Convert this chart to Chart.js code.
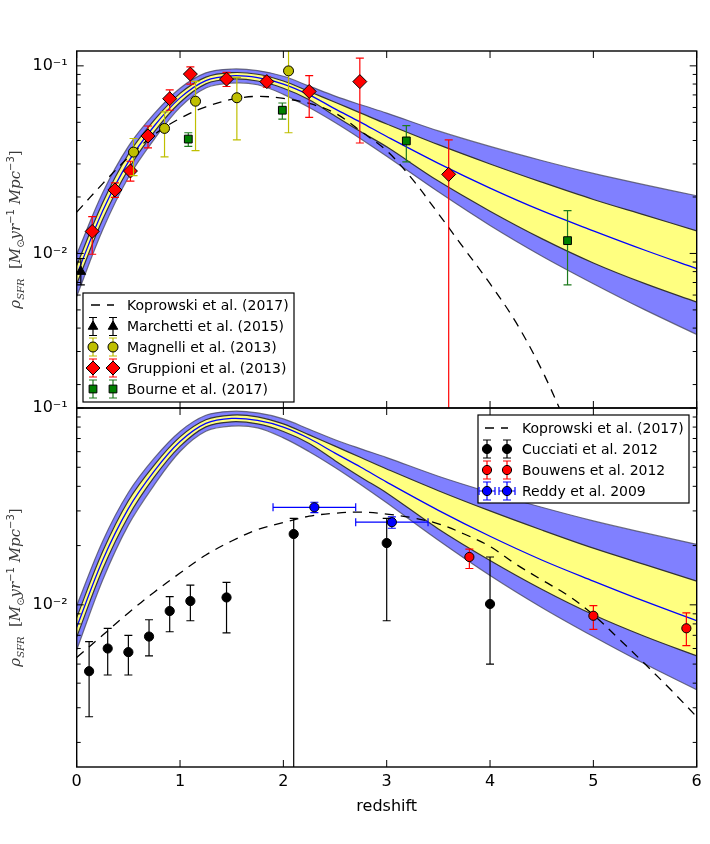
<!DOCTYPE html>
<html>
<head>
<meta charset="utf-8">
<script src="https://cdn.jsdelivr.net/npm/chart.js"></script>
<style>
body { margin: 0; background: #fff; }
#wrap { position: relative; width: 710px; height: 844px; }
canvas { position: absolute; left: 0; }
#top { top: 0; }
#bottom { top: 380px; }
</style>
</head>
<body>
<div id="wrap">
<canvas id="top" width="710" height="440"></canvas>
<canvas id="bottom" width="710" height="464"></canvas>
</div>
<script>
// model SFRD curve, same in both panels
const zModel = [0, 0.25, 0.5, 0.75, 1, 1.25, 1.5, 1.75, 2, 2.25, 2.5, 2.75, 3, 3.5, 4, 4.5, 5, 5.5, 6];
const sfrMid = [0.0077, 0.0168, 0.0308, 0.0478, 0.0675, 0.0835, 0.0885, 0.0865, 0.0800, 0.0700, 0.0590, 0.0500, 0.0420, 0.0302, 0.0223, 0.0169, 0.0132, 0.0104, 0.0083];
const sfr1Lo = [0.00686, 0.0151, 0.0281, 0.0445, 0.0638, 0.0802, 0.0851, 0.0830, 0.0760, 0.0660, 0.0540, 0.0445, 0.0370, 0.0243, 0.0168, 0.0120, 0.0089, 0.0069, 0.0055];
const sfr1Hi = [0.00863, 0.0186, 0.0338, 0.0513, 0.0713, 0.0871, 0.0920, 0.0902, 0.0830, 0.0730, 0.0640, 0.0560, 0.0490, 0.0380, 0.0300, 0.0240, 0.0194, 0.0160, 0.0132];
const sfr2Lo = [0.0059, 0.0133, 0.0254, 0.0406, 0.0601, 0.0762, 0.0809, 0.0793, 0.0705, 0.0600, 0.0499, 0.0408, 0.0330, 0.0213, 0.0141, 0.0097, 0.0069, 0.0050, 0.0037];
const sfr2Hi = [0.0099, 0.0210, 0.0372, 0.0556, 0.0760, 0.0918, 0.0962, 0.0944, 0.0880, 0.0780, 0.0690, 0.0620, 0.0560, 0.0450, 0.0372, 0.0313, 0.0267, 0.0232, 0.0203];

// Koprowski et al. (2017), top (IR) and bottom (UV)
const kopTopZ = [0, 0.25, 0.5, 0.75, 1, 1.25, 1.5, 1.75, 2, 2.25, 2.5, 2.75, 3, 3.25, 3.5, 3.75, 4, 4.25, 4.5, 4.75];
const kopTopV = [0.0166, 0.0235, 0.0325, 0.0430, 0.0525, 0.0605, 0.0662, 0.0688, 0.0670, 0.0630, 0.0560, 0.0448, 0.0353, 0.0248, 0.0163, 0.0106, 0.0069, 0.0043, 0.0024, 0.0012];
const kopBotZ = [0, 0.25, 0.5, 0.75, 1, 1.25, 1.5, 1.75, 2, 2.25, 2.5, 2.75, 3, 3.25, 3.5, 3.75, 4, 4.25, 4.5, 4.75, 5, 5.25, 5.5, 5.75, 6];
const kopBotV = [0.0054, 0.0070, 0.0091, 0.0116, 0.0145, 0.0179, 0.0211, 0.0241, 0.0262, 0.0282, 0.0292, 0.0296, 0.0289, 0.0277, 0.0258, 0.0229, 0.0198, 0.0161, 0.0134, 0.0112, 0.0089, 0.0067, 0.0050, 0.0037, 0.0027];

// top panel data
const marZ = [0.04], marV = [0.0080], marLo = [0.0068], marHi = [0.0094];
const magZ = [0.55, 0.85, 1.15, 1.55, 2.05];
const magV = [0.0347, 0.0464, 0.0648, 0.0676, 0.094];
const magLo = [0.0260, 0.0327, 0.0353, 0.0403, 0.044];
const magHi = [0.0410, 0.0568, 0.0827, 0.0868, 0.2];
const gruZ = [0.15, 0.37, 0.52, 0.69, 0.9, 1.1, 1.45, 1.84, 2.25, 2.74, 3.6];
const gruV = [0.0131, 0.0218, 0.0275, 0.0423, 0.0668, 0.0904, 0.085, 0.0824, 0.073, 0.0824, 0.0264];
const gruLo = [0.0099, 0.0199, 0.0243, 0.0365, 0.058, 0.080, 0.0776, 0.0770, 0.0531, 0.0388, 0.0001];
const gruHi = [0.0157, 0.0238, 0.0310, 0.0478, 0.0745, 0.0988, 0.0923, 0.0875, 0.0886, 0.110, 0.0403];
const bouZ = [1.08, 1.99, 3.19, 4.75];
const bouV = [0.0407, 0.058, 0.0398, 0.0117];
const bouLo = [0.0372, 0.052, 0.0308, 0.0068];
const bouHi = [0.044, 0.0634, 0.048, 0.0169];

// bottom panel data
const cucZ = [0.12, 0.3, 0.5, 0.7, 0.9, 1.1, 1.45, 2.1, 3.0, 4.0];
const cucV = [0.0046, 0.0060, 0.00575, 0.0069, 0.0093, 0.01045, 0.0109, 0.0229, 0.0206, 0.0101];
const cucLo = [0.0027, 0.0044, 0.0044, 0.0055, 0.0073, 0.0083, 0.0072, 0.0001, 0.0083, 0.0050];
const cucHi = [0.0065, 0.0076, 0.0070, 0.0084, 0.0110, 0.0126, 0.0130, 0.0275, 0.0275, 0.0175];
const bwsZ = [3.8, 5.0, 5.9];
const bwsV = [0.0175, 0.0088, 0.0076];
const bwsLo = [0.0153, 0.0075, 0.0062];
const bwsHi = [0.0192, 0.0099, 0.0091];
const redZ = [2.3, 3.05], redZLo = [1.9, 2.7], redZHi = [2.7, 3.4];
const redV = [0.0313, 0.0263], redLo = [0.0294, 0.0245], redHi = [0.0332, 0.028];

const xTickValues = [0, 1, 2, 3, 4, 5, 6];
const yTickValues = [0.01, 0.1];
const yTickText = ['10⁻²', '10⁻¹'];

Chart.defaults.font.family = '"DejaVu Sans"';

const pts = (xs, ys) => xs.map((x, i) => ({x: x, y: ys[i]}));

function band(hi, lo, fill, edge, ord) {
	return [
		{data: pts(zModel, hi), fill: '+1', backgroundColor: fill, borderColor: edge, borderWidth: 1.2, pointRadius: 0, tension: 0.35, order: ord + 1},
		{data: pts(zModel, lo), fill: false, borderColor: edge, borderWidth: 1.2, pointRadius: 0, tension: 0.35, order: ord},
	];
}

function curve(zs, vs, color, dash, ord) {
	return {data: pts(zs, vs), fill: false, borderColor: color, borderWidth: 1.3, borderDash: dash, pointRadius: 0, tension: 0.35, order: ord};
}

function points(s, ord) {
	return {
		data: pts(s.z, s.v), showLine: false, pointStyle: s.style, pointRadius: s.r,
		pointBackgroundColor: s.fill, pointBorderColor: '#000', pointBorderWidth: 1,
		errLo: s.lo, errHi: s.hi, errColor: s.err, xLo: s.zLo, xHi: s.zHi, order: ord,
	};
}

const marchetti = {z: marZ, v: marV, lo: marLo, hi: marHi, style: 'triangle', r: 5.5, fill: '#000000', err: '#000000'};
const magnelli = {z: magZ, v: magV, lo: magLo, hi: magHi, style: 'circle', r: 5, fill: '#bfbf00', err: '#bfbf00'};
const gruppioni = {z: gruZ, v: gruV, lo: gruLo, hi: gruHi, style: 'rectRot', r: 7, fill: '#ff0000', err: '#ff0000'};
const bourne = {z: bouZ, v: bouV, lo: bouLo, hi: bouHi, style: 'rect', r: 5.5, fill: '#008000', err: '#1d7a1d'};
const cucciati = {z: cucZ, v: cucV, lo: cucLo, hi: cucHi, style: 'circle', r: 4.6, fill: '#000000', err: '#000000'};
const bouwens = {z: bwsZ, v: bwsV, lo: bwsLo, hi: bwsHi, style: 'circle', r: 4.6, fill: '#ff0000', err: '#ff0000'};
const reddy = {z: redZ, v: redV, lo: redLo, hi: redHi, zLo: redZLo, zHi: redZHi, style: 'circle', r: 4.6, fill: '#0000ff', err: '#0000ff'};

function modelSets() {
	return [].concat(
		band(sfr2Hi, sfr2Lo, '#8080ff', 'rgba(70,70,90,0.75)', 50),
		band(sfr1Hi, sfr1Lo, '#ffff80', '#333333', 40),
		[curve(zModel, sfrMid, '#0000ff', [], 30)]
	);
}

const errorBarPlugin = {
	id: 'errbars',
	beforeDatasetDraw(chart, args) {
		const ds = chart.data.datasets[args.index];
		if (!ds.errLo) return;
		const {ctx, chartArea: a} = chart;
		const x = chart.scales.x, y = chart.scales.y;
		ctx.save();
		ctx.beginPath();
		ctx.rect(a.left, a.top, a.right - a.left, a.bottom - a.top);
		ctx.clip();
		ctx.strokeStyle = ds.errColor;
		ctx.lineWidth = 1.2;
		ctx.beginPath();
		ds.data.forEach((p, i) => {
			const px = x.getPixelForValue(p.x);
			const lo = y.getPixelForValue(ds.errLo[i]);
			const hi = y.getPixelForValue(ds.errHi[i]);
			ctx.moveTo(px, lo); ctx.lineTo(px, hi);
			ctx.moveTo(px - 4, lo); ctx.lineTo(px + 4, lo);
			ctx.moveTo(px - 4, hi); ctx.lineTo(px + 4, hi);
			if (ds.xLo) {
				const py = y.getPixelForValue(p.y);
				const l = x.getPixelForValue(ds.xLo[i]), r = x.getPixelForValue(ds.xHi[i]);
				ctx.moveTo(l, py); ctx.lineTo(r, py);
				ctx.moveTo(l, py - 4); ctx.lineTo(l, py + 4);
				ctx.moveTo(r, py - 4); ctx.lineTo(r, py + 4);
			}
		});
		ctx.stroke();
		ctx.restore();
	},
};

const framePlugin = {
	id: 'frame',
	afterDatasetsDraw(chart) {
		const {ctx, chartArea: a} = chart;
		const x = chart.scales.x, y = chart.scales.y;
		ctx.save();
		ctx.strokeStyle = '#000';
		ctx.lineWidth = 1;
		ctx.beginPath();
		xTickValues.forEach(v => {
			const px = x.getPixelForValue(v);
			ctx.moveTo(px, a.bottom); ctx.lineTo(px, a.bottom - 7);
			ctx.moveTo(px, a.top); ctx.lineTo(px, a.top + 7);
		});
		[0.001, 0.01, 0.1].forEach(d => {
			for (let m = 1; m < 10; m++) {
				const v = m * d;
				if (v < y.min || v > y.max * 1.0001) continue;
				const py = y.getPixelForValue(v);
				const len = m === 1 ? 7 : 4;
				ctx.moveTo(a.left, py); ctx.lineTo(a.left + len, py);
				ctx.moveTo(a.right, py); ctx.lineTo(a.right - len, py);
			}
		});
		ctx.stroke();
		ctx.lineWidth = 1.4;
		ctx.strokeRect(a.left, a.top, a.right - a.left, a.bottom - a.top);
		ctx.restore();
	},
};

const yTitlePlugin = {
	id: 'ytitle',
	afterDraw(chart) {
		const ctx = chart.ctx, a = chart.chartArea;
		const it = 'italic 15px "DejaVu Serif"', rm = '15px "DejaVu Serif"';
		const sit = 'italic 10px "DejaVu Serif"', srm = '10px "DejaVu Sans"';
		const parts = [
			['ρ', it, 0], ['SFR', sit, 3.5], ['  [', rm, 0], ['M', it, 0], ['⊙', srm, 3.5],
			['yr', it, 0], ['−1', srm, -6], [' Mpc', it, 0], ['−3', srm, -6], [']', rm, 0],
		];
		ctx.save();
		let total = 0;
		parts.forEach(p => { ctx.font = p[1]; p.push(ctx.measureText(p[0]).width); total += p[3]; });
		ctx.translate(20, (a.top + a.bottom) / 2);
		ctx.rotate(-Math.PI / 2);
		ctx.fillStyle = '#3a3a3a';
		ctx.textBaseline = 'alphabetic';
		let cx = -total / 2;
		parts.forEach(p => { ctx.font = p[1]; ctx.fillText(p[0], cx, p[2]); cx += p[3]; });
		ctx.restore();
	},
};

function drawMarker(ctx, s, x, y) {
	const r = s.r;
	ctx.beginPath();
	if (s.style === 'circle') {
		ctx.arc(x, y, r, 0, 2 * Math.PI);
	} else if (s.style === 'triangle') {
		ctx.moveTo(x, y - r);
		ctx.lineTo(x + r * Math.sin(2 * Math.PI / 3), y - r * Math.cos(2 * Math.PI / 3));
		ctx.lineTo(x + r * Math.sin(4 * Math.PI / 3), y - r * Math.cos(4 * Math.PI / 3));
		ctx.closePath();
	} else if (s.style === 'rectRot') {
		ctx.moveTo(x, y - r); ctx.lineTo(x + r, y); ctx.lineTo(x, y + r); ctx.lineTo(x - r, y);
		ctx.closePath();
	} else {
		const h = r * Math.SQRT1_2;
		ctx.rect(x - h, y - h, 2 * h, 2 * h);
	}
	ctx.fillStyle = s.fill;
	ctx.fill();
	ctx.strokeStyle = '#000';
	ctx.lineWidth = 1;
	ctx.stroke();
}

function legendPlugin(box) {
	return {
		id: 'sciLegend',
		afterDraw(chart) {
			const ctx = chart.ctx;
			ctx.save();
			ctx.fillStyle = '#fff';
			ctx.fillRect(box.x, box.y, box.w, box.h);
			ctx.strokeStyle = '#000';
			ctx.lineWidth = 1.2;
			ctx.strokeRect(box.x, box.y, box.w, box.h);
			box.rows.forEach((row, i) => {
				const yy = box.rowY[i];
				if (row.series === null) {
					ctx.strokeStyle = '#000';
					ctx.lineWidth = 1.3;
					ctx.setLineDash([9, 7]);
					ctx.beginPath();
					ctx.moveTo(box.mx[0] - 2, yy);
					ctx.lineTo(box.mx[1] + 1, yy);
					ctx.stroke();
					ctx.setLineDash([]);
				} else {
					const s = row.series;
					box.mx.forEach(mx => {
						ctx.strokeStyle = s.err;
						ctx.lineWidth = 1.2;
						ctx.beginPath();
						ctx.moveTo(mx, yy - 9); ctx.lineTo(mx, yy + 9);
						ctx.moveTo(mx - 4, yy - 9); ctx.lineTo(mx + 4, yy - 9);
						ctx.moveTo(mx - 4, yy + 9); ctx.lineTo(mx + 4, yy + 9);
						if (s.zLo) {
							ctx.moveTo(mx - 8, yy); ctx.lineTo(mx + 8, yy);
							ctx.moveTo(mx - 8, yy - 4); ctx.lineTo(mx - 8, yy + 4);
							ctx.moveTo(mx + 8, yy - 4); ctx.lineTo(mx + 8, yy + 4);
						}
						ctx.stroke();
						drawMarker(ctx, s, mx, yy);
					});
				}
				ctx.fillStyle = '#000';
				ctx.font = '14px "DejaVu Sans"';
				ctx.textBaseline = 'middle';
				ctx.fillText(row.label, box.tx, yy + 1);
			});
			ctx.restore();
		},
	};
}

function panel(id, yMin, yMax, datasets, legendBox, showX, pad) {
	return new Chart(document.getElementById(id), {
		type: 'line',
		data: {datasets: datasets},
		options: {
			responsive: false,
			animation: false,
			layout: {padding: pad},
			plugins: {legend: {display: false}, tooltip: {enabled: false}},
			scales: {
				x: {
					type: 'linear', min: 0, max: 6, display: showX,
					grid: {display: false, drawTicks: false}, border: {display: false},
					afterFit: s => { if (showX) s.height = 49; },
					ticks: {stepSize: 1, padding: 5, color: '#000', font: {size: 16}, callback: v => String(v)},
					title: {display: true, text: 'redshift', color: '#000', font: {size: 16}, padding: 0},
				},
				y: {
					type: 'logarithmic', min: yMin, max: yMax,
					grid: {display: false, drawTicks: false}, border: {display: false},
					afterFit: s => { s.width = 76.7; },
					afterBuildTicks: s => {
						s.ticks = yTickValues.filter(v => v >= yMin && v <= yMax).map(v => ({value: v}));
					},
					ticks: {padding: 9, color: '#000', font: {size: 16}, callback: v => yTickText[yTickValues.indexOf(v)]},
				},
			},
		},
		plugins: [errorBarPlugin, framePlugin, legendPlugin(legendBox), yTitlePlugin],
	});
}

panel('top', 0.0015, 0.12,
	modelSets().concat([
		curve(kopTopZ, kopTopV, '#000000', [9, 7], 20),
		points(bourne, 4),
		points(gruppioni, 3),
		points(magnelli, 2),
		points(marchetti, 1),
	]),
	{
		x: 83, y: 293, w: 211, h: 109, tx: 127, mx: [93, 113],
		rowY: [305, 326.5, 347, 368, 389],
		rows: [
			{label: 'Koprowski et al. (2017)', series: null},
			{label: 'Marchetti et al. (2015)', series: marchetti},
			{label: 'Magnelli et al. (2013)', series: magnelli},
			{label: 'Gruppioni et al. (2013)', series: gruppioni},
			{label: 'Bourne et al. (2017)', series: bourne},
		],
	},
	false, {left: 0, right: 13.3, top: 51, bottom: 32});

panel('bottom', 0.0015, 0.1,
	modelSets().concat([
		curve(kopBotZ, kopBotV, '#000000', [9, 7], 20),
		points(reddy, 3),
		points(bouwens, 2),
		points(cucciati, 1),
	]),
	{
		x: 478, y: 35, w: 211, h: 88, tx: 522, mx: [487, 507],
		rowY: [48, 69, 90, 111],
		rows: [
			{label: 'Koprowski et al. (2017)', series: null},
			{label: 'Cucciati et al. 2012', series: cucciati},
			{label: 'Bouwens et al. 2012', series: bouwens},
			{label: 'Reddy et al. 2009', series: reddy},
		],
	},
	true, {left: 0, right: 13.3, top: 28, bottom: 28});
</script>
</body>
</html>
